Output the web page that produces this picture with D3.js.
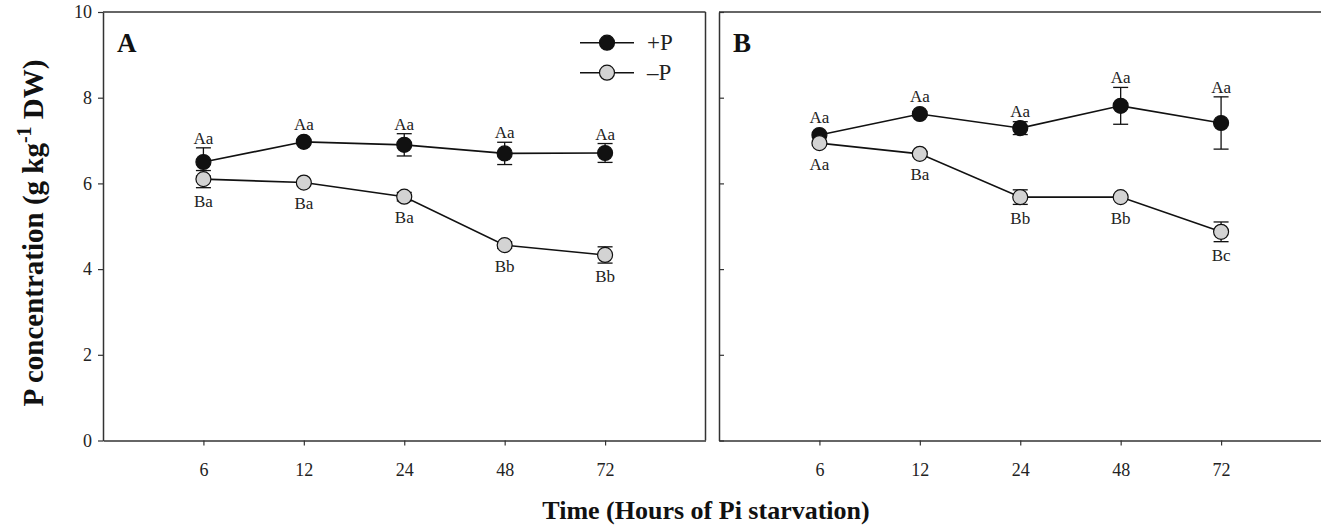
<!DOCTYPE html>
<html>
<head>
<meta charset="utf-8">
<script src="https://cdn.jsdelivr.net/npm/d3@7"></script>
<style>
  body { margin: 0; background: #fff; }
  svg { display: block; font-family: "Liberation Serif", "Times New Roman", serif; }
</style>
</head>
<body>
<svg id="chart" width="1321" height="527"></svg>
<script>
// hours of Pi starvation
const categories = ["6", "12", "24", "48", "72"];
const yTicks = [0, 2, 4, 6, 8, 10];

// panel A
const plusA = [6.50, 6.97, 6.90, 6.70, 6.71];
const plusAErr = [0.33, 0.04, 0.26, 0.26, 0.22];
const minusA = [6.10, 6.02, 5.69, 4.56, 4.33];
const minusAErr = [0.20, 0.04, 0.10, 0.08, 0.19];
const plusALabels = ["Aa", "Aa", "Aa", "Aa", "Aa"];
const minusALabels = ["Ba", "Ba", "Ba", "Bb", "Bb"];

// panel B
const plusB = [7.13, 7.62, 7.29, 7.81, 7.41];
const plusBErr = [0.05, 0.05, 0.15, 0.43, 0.61];
const minusB = [6.94, 6.69, 5.68, 5.68, 4.87];
const minusBErr = [0.05, 0.05, 0.17, 0.05, 0.23];
const plusBLabels = ["Aa", "Aa", "Aa", "Aa", "Aa"];
const minusBLabels = ["Aa", "Ba", "Bb", "Bb", "Bc"];

const seriesNames = ["+P", "\u2013P"];
const seriesFill = ["#111", "#d3d3d3"];

const plotTop = 12;
const plotBottom = 440.5;
const panelWidth = 602.5;
const markerR = 7.5;
const capHalf = 7.5;

const svg = d3.select("#chart");

const y = d3.scaleLinear().domain([0, 10]).range([plotBottom, plotTop]);

function drawPanel(left, letter, series, showYLabels, closeRight) {
  const g = svg.append("g").attr("transform", `translate(${left},0)`);
  const x = d3.scalePoint().domain(categories).range([0, panelWidth]).padding(1);

  // frame
  g.append("line").attr("x1", 0).attr("x2", panelWidth).attr("y1", plotTop).attr("y2", plotTop)
    .attr("stroke", "#333").attr("stroke-width", 1.5);
  if (closeRight) {
    g.append("line").attr("x1", panelWidth).attr("x2", panelWidth).attr("y1", plotTop).attr("y2", plotBottom)
      .attr("stroke", "#333").attr("stroke-width", 1.5);
  }

  const xAxis = g.append("g").attr("transform", `translate(0,${plotBottom})`)
    .call(d3.axisBottom(x).tickSize(5).tickPadding(18).tickSizeOuter(0));
  xAxis.select(".domain").attr("stroke", "#333").attr("stroke-width", 1.5);

  let yAxisGen;
  if (showYLabels) {
    yAxisGen = d3.axisLeft(y).tickValues(yTicks).tickSize(5).tickPadding(6).tickSizeOuter(0);
  } else {
    yAxisGen = d3.axisRight(y).tickValues(yTicks).tickSize(5).tickFormat("").tickSizeOuter(0);
  }
  const yAxis = g.append("g").call(yAxisGen);
  yAxis.select(".domain").attr("stroke", "#333").attr("stroke-width", 1.5);

  g.selectAll(".tick line").attr("stroke", "#333").attr("stroke-width", 1.2);
  g.selectAll(".tick text").attr("fill", "#222").style("font-size", "18px")
    .style("font-family", "'Liberation Serif', serif");

  g.append("text").attr("x", 14).attr("y", 52)
    .style("font-size", "27px").style("font-weight", "bold").attr("fill", "#111").text(letter);

  const line = d3.line().x((d, i) => x(categories[i])).y(d => y(d));

  series.forEach((s, si) => {
    g.append("path").datum(s.values).attr("d", line)
      .attr("fill", "none").attr("stroke", "#111").attr("stroke-width", 1.6);

    const eb = g.append("g");
    s.values.forEach((v, i) => {
      const cx = x(categories[i]);
      const y1 = y(v + s.err[i]);
      const y2 = y(v - s.err[i]);
      eb.append("line").attr("x1", cx).attr("x2", cx).attr("y1", y1).attr("y2", y2)
        .attr("stroke", "#111").attr("stroke-width", 1.3);
      [y1, y2].forEach(yy => eb.append("line").attr("x1", cx - capHalf).attr("x2", cx + capHalf)
        .attr("y1", yy).attr("y2", yy).attr("stroke", "#111").attr("stroke-width", 1.3));
    });

    g.append("g").selectAll("circle").data(s.values).join("circle")
      .attr("cx", (d, i) => x(categories[i])).attr("cy", d => y(d)).attr("r", markerR)
      .attr("fill", seriesFill[si]).attr("stroke", "#111").attr("stroke-width", 1.2);

    g.append("g").selectAll("text").data(s.values).join("text")
      .attr("x", (d, i) => x(categories[i]))
      .attr("y", (d, i) => {
        if (s.above) {
          return Math.min(y(d + s.err[i]), y(d) - markerR) - 4;
        }
        return Math.max(y(d - s.err[i]), y(d) + markerR) + 19;
      })
      .attr("text-anchor", "middle").style("font-size", "17px").attr("fill", "#222")
      .text((d, i) => s.labels[i]);
  });
  return g;
}

drawPanel(103, "A", [
  { values: plusA, err: plusAErr, labels: plusALabels, above: true },
  { values: minusA, err: minusAErr, labels: minusALabels, above: false }
], true, true);

drawPanel(719, "B", [
  { values: plusB, err: plusBErr, labels: plusBLabels, above: true },
  { values: minusB, err: minusBErr, labels: minusBLabels, above: false }
], false, false);

// legend in panel A
const legend = svg.append("g").attr("transform", "translate(580,0)");
seriesNames.forEach((name, i) => {
  const ly = 42.7 + i * 30;
  legend.append("line").attr("x1", 0).attr("x2", 54).attr("y1", ly).attr("y2", ly)
    .attr("stroke", "#111").attr("stroke-width", 1.6);
  legend.append("circle").attr("cx", 27).attr("cy", ly).attr("r", markerR)
    .attr("fill", seriesFill[i]).attr("stroke", "#111").attr("stroke-width", 1.2);
  legend.append("text").attr("x", 67).attr("y", ly + 7.3).style("font-size", "23px")
    .attr("fill", "#222").text(name);
});

// axis titles
svg.append("text")
  .attr("transform", "translate(43,233) rotate(-90)")
  .attr("text-anchor", "middle").style("font-size", "29px").style("font-weight", "bold")
  .attr("fill", "#111")
  .html('P concentration (g kg<tspan dy="-12" font-size="20">-1</tspan><tspan dy="12"> DW)</tspan>');

svg.append("text")
  .attr("x", 706).attr("y", 519)
  .attr("text-anchor", "middle").style("font-size", "26px").style("font-weight", "bold")
  .attr("fill", "#111")
  .text("Time (Hours of Pi starvation)");
</script>
</body>
</html>
